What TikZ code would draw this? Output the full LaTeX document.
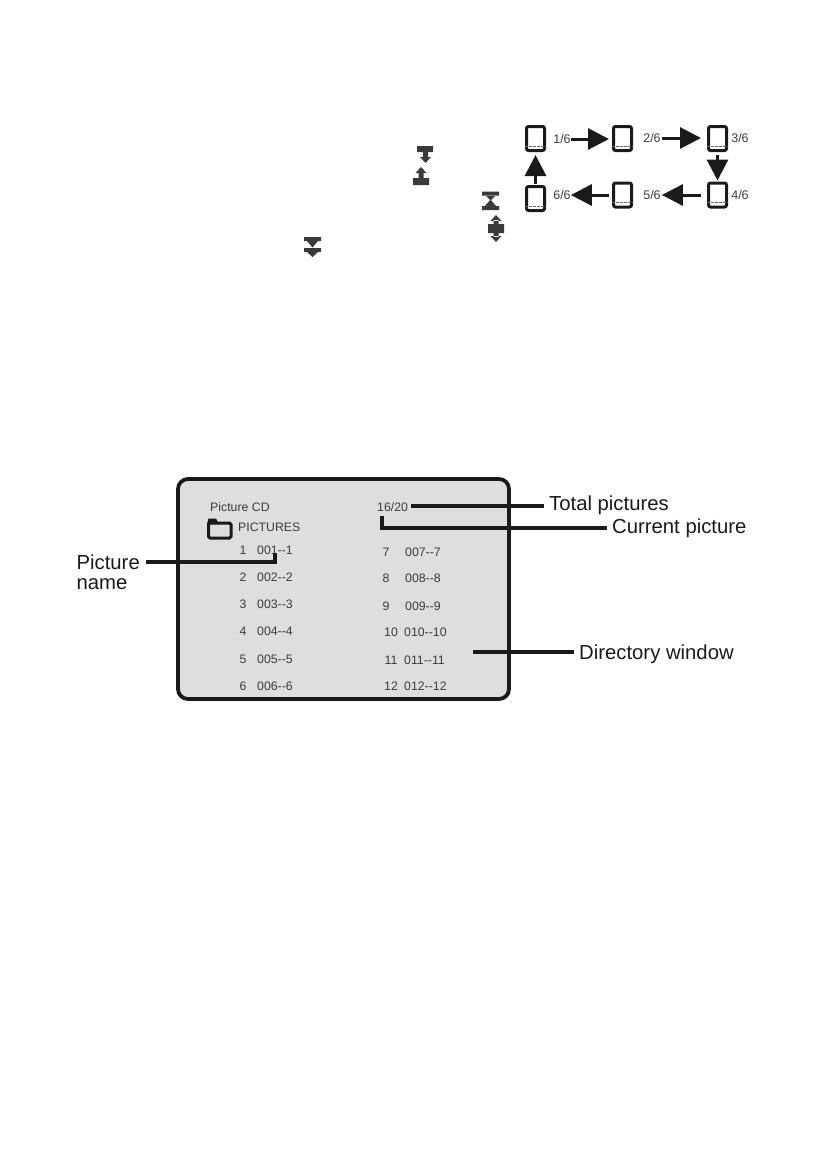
\documentclass[tikz,border=0pt]{standalone}
\usepackage{fontspec}
\setmainfont{Liberation Sans}
\usetikzlibrary{arrows.meta}
\definecolor{screengray}{HTML}{DEDEDE}
\definecolor{inkdark}{HTML}{1A1A1A}
\definecolor{icondark}{HTML}{3A3A3A}
\tikzset{
  pg/.style={draw=inkdark,line width=3pt,rounded corners=2pt,minimum width=18pt,minimum height=24pt,inner sep=0pt,outer sep=1.5pt},
  pgdash/.style={draw=gray!80!black,line width=1pt,dash pattern=on 2.5pt off 1.5pt},
  frac/.style={font=\fontsize{12.5}{14}\selectfont,text=inkdark!85,inner sep=0pt},
  flow/.style={draw=inkdark,line width=3pt,-{Triangle[length=21pt,width=21pt]}},
  screen/.style={draw=inkdark,line width=3.8pt,rounded corners=10pt,fill=screengray},
  small/.style={font=\fontsize{12.3}{14}\selectfont,text=inkdark!85,inner sep=0pt},
  num/.style={small,anchor=center},
  entry/.style={small,anchor=west},
  callout/.style={font=\fontsize{20.3}{20.5}\selectfont,text=inkdark,align=left,anchor=west,inner ysep=0pt,inner xsep=5pt},
  leader/.style={draw=inkdark,line width=3.3pt},
  glyph/.style={fill=icondark}
}
\begin{document}
\begin{tikzpicture}[x=1pt,y=-1pt]
\useasboundingbox (0,0) rectangle (822,1162);
% small key icons
\fill[glyph] (417,146) rectangle (433,152) (423,152) rectangle (428,157)
  (420,157) -- (431,157) -- (425.5,163) -- cycle;
\fill[glyph] (413,178) rectangle (429,185) (418.5,178) rectangle (423.5,173)
  (415.5,173) -- (426.5,173) -- (421,167) -- cycle;
\fill[glyph] (482,191.5) rectangle (499,195.5) (482,206) rectangle (499,210)
  (485,195) -- (496,195) -- (490.5,200.5) -- cycle (485,206) -- (496,206) -- (490.5,199.5) -- cycle;
\fill[glyph] (488,224) rectangle (504,233) (493.5,224) rectangle (498.5,220) (493.5,233) rectangle (498.5,237)
  (490.5,221) -- (501.5,221) -- (496,215) -- cycle (490.5,236) -- (501.5,236) -- (496,242) -- cycle;
\fill[glyph] (304,237) rectangle (321,241) (304,248) rectangle (321,252)
  (307,241) -- (318,241) -- (312.5,247.5) -- cycle (307,252) -- (318,252) -- (312.5,257) -- cycle;
% page sequence
\node[pg] (pg1) at (535.5,138.5) {};
\node[pg] (pg2) at (622.5,138.5) {};
\node[pg] (pg3) at (717.5,138.5) {};
\node[pg] (pg4) at (717.5,195) {};
\node[pg] (pg5) at (622.5,195) {};
\node[pg] (pg6) at (535.5,198.5) {};
\node[frac] (f1) at (562,139) {1/6};
\node[frac] (f2) at (652,138) {2/6};
\node[frac] (f3) at (740,138) {3/6};
\node[frac] (f4) at (740,195) {4/6};
\node[frac] (f5) at (652,195) {5/6};
\node[frac] (f6) at (562,195.5) {6/6};
\draw[pgdash] ([yshift=6pt]pg1.south west) -- ([yshift=6pt]pg1.south east);
\draw[pgdash] ([yshift=6pt]pg2.south west) -- ([yshift=6pt]pg2.south east);
\draw[pgdash] ([yshift=6pt]pg3.south west) -- ([yshift=6pt]pg3.south east);
\draw[pgdash] ([yshift=6pt]pg4.south west) -- ([yshift=6pt]pg4.south east);
\draw[pgdash] ([yshift=6pt]pg5.south west) -- ([yshift=6pt]pg5.south east);
\draw[pgdash] ([yshift=6pt]pg6.south west) -- ([yshift=6pt]pg6.south east);
\draw[flow,shorten >=3pt] (f1.east) -- (pg2.west |- f1.east);
\draw[flow,shorten >=6pt,shorten <=1pt] (f2.east) -- (pg3.west |- f2.east);
\draw[flow,shorten <=3pt,shorten >=1pt] (pg3.south) -- (pg4.north);
\draw[flow,shorten <=6pt,shorten >=1pt] (pg4.west) -- (f5.east |- pg4.west);
\draw[flow,shorten <=3pt,shorten >=0pt] (pg5.west) -- (f6.east |- pg5.west);
\draw[flow,shorten <=1pt,shorten >=3pt] (pg6.north) -- (pg1.south);
% directory screen
\node[screen,minimum width=331pt,minimum height=220pt] (scr) at (343.5,589) {};
\node[entry] (cdname) at (210,507) {Picture CD};
\node[entry] (count) at (377,507) {16/20};
\node[entry] (dirname) at (238,527) {PICTURES};
\draw[draw=inkdark,line width=3pt,rounded corners=1.5pt,fill=screengray] (208.5,523) rectangle (231,538);
\fill[inkdark] (207,524) -- (208.5,518.5) -- (216,518.5) -- (219,524) -- cycle;
\node[num] (n1) at (243,550) {1};
\node[entry] (e1) at (257,550) {001-{}-1};
\node[num] (n2) at (243,577) {2};
\node[entry] (e2) at (257,577) {002-{}-2};
\node[num] (n3) at (243,604) {3};
\node[entry] (e3) at (257,604) {003-{}-3};
\node[num] (n4) at (243,631) {4};
\node[entry] (e4) at (257,631) {004-{}-4};
\node[num] (n5) at (243,659) {5};
\node[entry] (e5) at (257,659) {005-{}-5};
\node[num] (n6) at (243,686) {6};
\node[entry] (e6) at (257,686) {006-{}-6};
\node[num] (n7) at (386,552) {7};
\node[entry] (e7) at (405,552) {007-{}-7};
\node[num] (n8) at (386,578) {8};
\node[entry] (e8) at (405,578) {008-{}-8};
\node[num] (n9) at (386,606) {9};
\node[entry] (e9) at (405,606) {009-{}-9};
\node[num] (n10) at (391,632) {10};
\node[entry] (e10) at (404,632) {010-{}-10};
\node[num] (n11) at (391,660) {11};
\node[entry] (e11) at (404,660) {011-{}-11};
\node[num] (n12) at (391,686) {12};
\node[entry] (e12) at (404,686) {012-{}-12};
% callouts
\node[callout] (ltotal) at (544,505) {Total pictures};
\node[callout] (lcurrent) at (607,528) {Current picture};
\node[callout] (ldir) at (574,654.5) {Directory window};
\node[font=\fontsize{20.3}{20.5}\selectfont,text=inkdark,align=left,anchor=east,inner sep=0pt] (lname) at (140,572) {Picture\\name};
\coordinate (ptotal) at (411,506);
\coordinate (pcurrent) at (382,516);
\coordinate (pname) at (275,553);
\coordinate (pdir) at (473,652);
\draw[leader] (ptotal) -- (ptotal -| ltotal.west);
\draw[leader] (pcurrent) -- (382,528) -- (607,528);
\draw[leader] (pname) -- (275,562) -- (146,562);
\draw[leader] (pdir) -- (pdir -| ldir.west);
\end{tikzpicture}
\end{document}
